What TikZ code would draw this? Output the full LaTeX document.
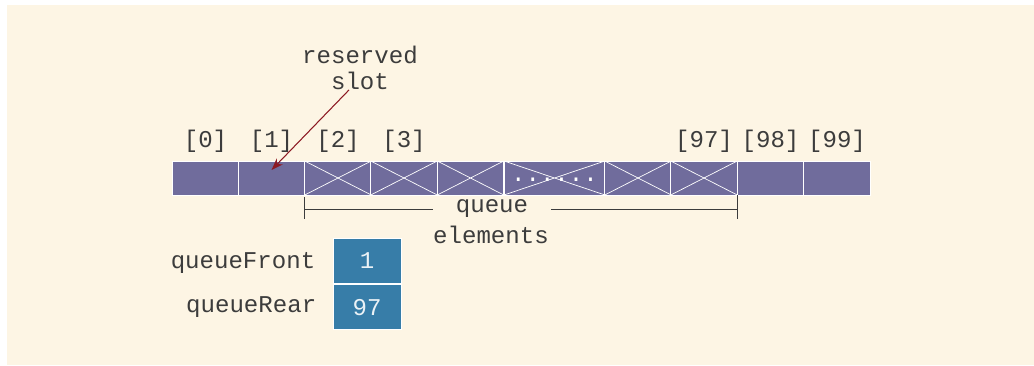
\documentclass[tikz,border=0pt]{standalone}
\usepackage{fontspec}
\setmonofont{Liberation Mono}
\usetikzlibrary{arrows.meta, positioning, calc}
\definecolor{cream}{RGB}{253,245,228}
\definecolor{slotpurple}{RGB}{112,108,156}
\definecolor{regblue}{RGB}{55,125,168}
\definecolor{pointred}{RGB}{140,25,35}
\definecolor{inkgray}{RGB}{60,60,60}

\begin{document}
\begin{tikzpicture}[x=0.02cm, y=-0.02cm,
    txt/.style={font=\ttfamily\fontsize{13.7pt}{14.5pt}\selectfont, text=inkgray, inner sep=0pt, align=center},
    cell/.style={rectangle, draw=white, line width=0.5pt, fill=slotpurple, minimum width=1.33cm, minimum height=0.68cm, inner sep=0pt},
    used/.style={cell, path picture={\draw[white, line width=0.4pt] (path picture bounding box.north west) -- (path picture bounding box.south east) (path picture bounding box.south west) -- (path picture bounding box.north east);}},
    reg/.style={rectangle, draw=white, line width=0.5pt, fill=regblue, minimum width=1.36cm, minimum height=0.9cm, font=\ttfamily\fontsize{13.7pt}{14.5pt}\selectfont, text=white!90!regblue},
    pointer/.style={-{Stealth[length=0.24cm, width=0.17cm]}, draw=pointred, line width=0.6pt},
    span/.style={draw=inkgray, line width=0.5pt}
  ]
    \useasboundingbox (0,0) rectangle (1034,365);
    \fill[cream] (7,5) rectangle (1034,365);

    % the array slots
    \node[cell] (c0) at (205.5,178) {};
    \node[cell] (c1) at (271.5,178) {};
    \node[used] (c2) at (338,178) {};
    \node[used] (c3) at (404,178) {};
    \node[used] (c4) at (470.5,178) {};
    \node[used, txt, text=white, text height=1ex, text depth=0pt, minimum width=2.02cm, minimum height=0.68cm] (cdots) at (554.5,178) {......};
    \node[used] (c96) at (638,178) {};
    \node[used] (c97) at (704,178) {};
    \node[cell] (c98) at (770.5,178) {};
    \node[cell] (c99) at (837,178) {};

    \node[txt, above=0.16cm of c0] (i0) {[0]};
    \node[txt, above=0.16cm of c1] (i1) {[1]};
    \node[txt, above=0.16cm of c2] (i2) {[2]};
    \node[txt, above=0.16cm of c3] (i3) {[3]};
    \node[txt, above=0.16cm of c97] (i97) {[97]};
    \node[txt, above=0.16cm of c98] (i98) {[98]};
    \node[txt, above=0.16cm of c99] (i99) {[99]};

    \node[txt] (slot) at (360,68) {reserved\\slot};
    \draw[pointer] ([xshift=-0.22cm]slot.south) -- ([yshift=0.16cm]c1.center);

    % span of queue elements
    \node[txt, inner xsep=0.46cm] (qtop) at (492,209) {queue};
    \node[txt] (qbot) at (491,235) {elements};
    \draw[span] ([yshift=-0.04cm]c2.south west) -- ++(0,22);
    \draw[span] (c2.south west |- qtop) -- (qtop);
    \draw[span] (qtop) -- (c97.south east |- qtop);
    \draw[span] (c97.south east) -- ++(0,24);

    \node[reg] (front) at (367,260.5) {1};
    \node[reg, below=0.02cm of front] (rear) {97};
    \node[txt, left=0.34cm of front, yshift=-0.04cm] (frontlbl) {queueFront};
    \node[txt, left=0.32cm of rear] (rearlbl) {queueRear};
  \end{tikzpicture}
\end{document}
